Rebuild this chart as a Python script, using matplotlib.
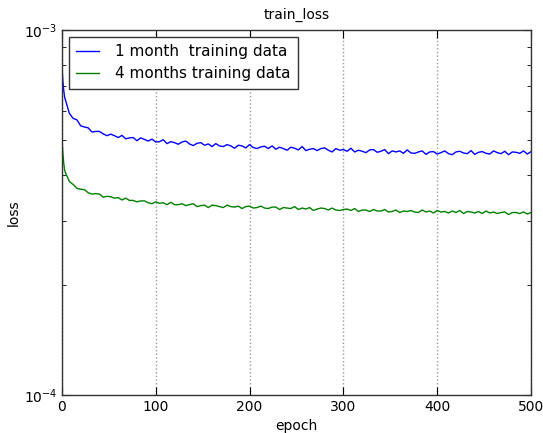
import numpy as np
import matplotlib
matplotlib.use("Agg")
import matplotlib.pyplot as plt
from matplotlib.ticker import LogLocator, NullFormatter

epochs = list(range(4)) + list(range(4, 501, 4))

# loss values, in units of 1e-4
loss_1_month = [
    7.97, 7.26, 6.81, 6.52,
    6.40, 5.90, 5.72, 5.67, 5.46, 5.42, 5.39, 5.25, 5.27, 5.27,
    5.19, 5.13, 5.18, 5.13, 5.07, 5.14, 5.03, 5.06, 5.07, 4.97,
    5.06, 5.01, 4.96, 5.02, 4.93, 4.94, 5.00, 4.88, 4.94, 4.91,
    4.86, 4.93, 4.96, 4.87, 4.82, 4.89, 4.91, 4.83, 4.87, 4.79,
    4.88, 4.81, 4.79, 4.85, 4.81, 4.74, 4.83, 4.81, 4.75, 4.85,
    4.76, 4.73, 4.78, 4.80, 4.73, 4.81, 4.71, 4.77, 4.73, 4.68,
    4.77, 4.74, 4.69, 4.79, 4.67, 4.71, 4.73, 4.67, 4.73, 4.75,
    4.68, 4.63, 4.73, 4.68, 4.70, 4.65, 4.74, 4.63, 4.68, 4.65,
    4.61, 4.69, 4.70, 4.62, 4.65, 4.70, 4.58, 4.66, 4.63, 4.66,
    4.59, 4.69, 4.60, 4.59, 4.63, 4.66, 4.56, 4.63, 4.64, 4.57,
    4.61, 4.66, 4.58, 4.55, 4.63, 4.65, 4.60, 4.58, 4.67, 4.56,
    4.62, 4.64, 4.59, 4.57, 4.66, 4.61, 4.58, 4.65, 4.55, 4.63,
    4.62, 4.59, 4.66, 4.57, 4.64,
]

loss_4_months = [
    5.04, 4.61, 4.30, 4.12,
    4.05, 3.84, 3.77, 3.68, 3.66, 3.65, 3.58, 3.55, 3.56, 3.55,
    3.48, 3.50, 3.49, 3.46, 3.47, 3.42, 3.46, 3.41, 3.41, 3.38,
    3.40, 3.40, 3.36, 3.34, 3.38, 3.35, 3.36, 3.32, 3.37, 3.32,
    3.32, 3.34, 3.30, 3.32, 3.34, 3.28, 3.30, 3.31, 3.26, 3.31,
    3.30, 3.28, 3.26, 3.31, 3.28, 3.27, 3.29, 3.24, 3.28, 3.29,
    3.25, 3.26, 3.29, 3.25, 3.24, 3.27, 3.27, 3.22, 3.26, 3.25,
    3.24, 3.28, 3.22, 3.25, 3.23, 3.26, 3.20, 3.23, 3.25, 3.24,
    3.21, 3.25, 3.21, 3.20, 3.22, 3.23, 3.20, 3.24, 3.18, 3.21,
    3.21, 3.18, 3.22, 3.19, 3.19, 3.22, 3.17, 3.18, 3.21, 3.16,
    3.19, 3.18, 3.20, 3.17, 3.16, 3.21, 3.17, 3.19, 3.15, 3.20,
    3.17, 3.18, 3.15, 3.19, 3.16, 3.20, 3.14, 3.18, 3.17, 3.15,
    3.18, 3.14, 3.19, 3.15, 3.17, 3.14, 3.16, 3.17, 3.12, 3.16,
    3.16, 3.14, 3.17, 3.13, 3.16,
]

series_labels = ['1 month  training data', '4 months training data']

assert len(epochs) == len(loss_1_month) == len(loss_4_months)

fig = plt.figure(figsize=(5.43, 4.33), dpi=100, facecolor='white')
ax = fig.add_axes([0.114, 0.088, 0.864, 0.843])

ax.plot(epochs, np.array(loss_1_month) * 1e-4, color='#0000ff', linewidth=1.0,
        label=series_labels[0])
ax.plot(epochs, np.array(loss_4_months) * 1e-4, color='#008000', linewidth=1.0,
        label=series_labels[1])

ax.set_yscale('log')
ax.set_xlim(0, 500)
ax.set_ylim(1e-4, 1e-3)
ax.set_xticks([0, 100, 200, 300, 400, 500])
ax.yaxis.set_major_locator(LogLocator(base=10, numticks=5))
ax.yaxis.set_minor_locator(LogLocator(base=10, subs=np.arange(2, 10), numticks=12))
ax.yaxis.set_minor_formatter(NullFormatter())

ax.xaxis.grid(True, linestyle=':', color='#999999', linewidth=1.0)
ax.tick_params(which='both', direction='in', top=True, right=True, labelsize=10)
ax.tick_params(which='major', length=6)
ax.tick_params(which='minor', length=3)
for s in ax.spines.values():
    s.set_linewidth(1.0)
    s.set_color('#333333')

ax.set_title('train_loss', fontsize=10, pad=8)
ax.set_xlabel('epoch', fontsize=10)
ax.set_ylabel('loss', fontsize=10, labelpad=2)

leg = ax.legend(loc='upper left', fontsize=11, fancybox=False, framealpha=1,
                edgecolor='#333333', handlelength=1.5, handletextpad=1.0,
                borderpad=0.5, labelspacing=0.45, borderaxespad=0.45)
leg.get_frame().set_linewidth(1.0)

fig.savefig('out.png', dpi=100, facecolor='white')
